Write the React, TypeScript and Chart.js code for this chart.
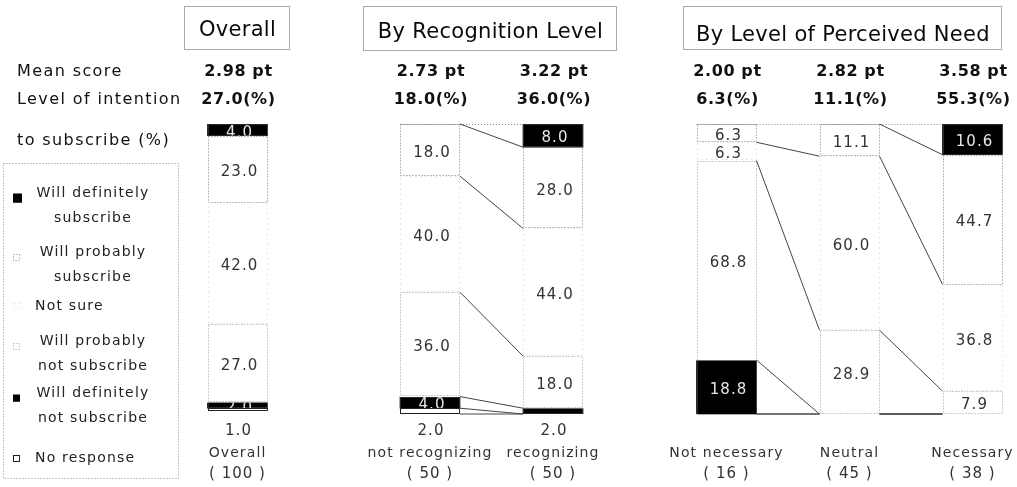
import React, { useEffect, useRef } from "react";
import { Chart, registerables } from "chart.js";

Chart.register(...registerables);

// ---- Data ----
const groupTitles = ["Overall", "By Recognition Level", "By Level of Perceived Need"];
const groupSizes = [1, 2, 3];
const categories = ["Overall", "not recognizing", "recognizing", "Not necessary", "Neutral", "Necessary"];
const sampleSizes = [100, 50, 50, 16, 45, 38];
const meanScores = [2.98, 2.73, 3.22, 2.0, 2.82, 3.58];
const intentionPct = [27.0, 18.0, 36.0, 6.3, 11.1, 55.3];

const definitelySubscribe = [4.0, 0, 8.0, 0, 0, 10.6];
const probablySubscribe = [23.0, 18.0, 28.0, 6.3, 11.1, 44.7];
const notSure = [42.0, 40.0, 44.0, 6.3, 60.0, 36.8];
const probablyNot = [27.0, 36.0, 18.0, 68.8, 28.9, 7.9];
const definitelyNot = [2.0, 4.0, 2.0, 18.8, 0, 0];
const noResponse = [1.0, 2.0, 0, 0, 0, 0];

const seriesNames = [
  "Will definitely subscribe",
  "Will probably subscribe",
  "Not sure",
  "Will probably not subscribe",
  "Will definitely not subscribe",
  "No response",
];
const seriesValues = [definitelySubscribe, probablySubscribe, notSure, probablyNot, definitelyNot, noResponse];

const legendLines: string[][] = [
  ["Will definitely", "subscribe"],
  ["Will probably", "subscribe"],
  ["Not sure"],
  ["Will probably", "not subscribe"],
  ["Will definitely", "not subscribe"],
  ["No response"],
];
const rowLabels = ["Mean score", "Level of intention", "to subscribe (%)"];

// ---- Layout ----
const W = 1017;
const H = 487;
const PLOT_TOP = 124;
const PLOT_BOTTOM = 414;
const GROUP_FIRST_X = [237.5, 430, 726.5];
const BAR_PITCH = 123;
const BAR_WIDTH = 60;
const TITLE_BOXES = [
  { x: 184, y: 6, w: 105, h: 43, base: 25 },
  { x: 363, y: 6, w: 253, h: 44, base: 26.5 },
  { x: 683, y: 6, w: 318, h: 43, base: 30 },
];
const ROW_Y = [72, 100, 141];
const BELOW_Y = [431, 453, 474];
const LEGEND_BOX = { x: 3, y: 163, w: 175, h: 315 };
const LEGEND_Y = [193, 252, 306, 341, 393, 458];
const FONT = '"DejaVu Sans", sans-serif';

const barX: number[] = [];
const barGroup: number[] = [];
groupSizes.forEach((n, g) => {
  for (let j = 0; j < n; j++) {
    barX.push(GROUP_FIRST_X[g] + j * BAR_PITCH);
    barGroup.push(g);
  }
});

const SEGMENT_STYLES = [
  { fill: "#000000", stroke: "#555555", dash: [1, 1], text: "#e6e6e6" },
  { fill: "#ffffff", stroke: "#7a7a7a", dash: [1, 2], text: "#333333" },
  { fill: "#ffffff", stroke: "#cfcfcf", dash: [1, 4], text: "#333333" },
  { fill: "#ffffff", stroke: "#9a9a9a", dash: [1, 2], text: "#333333" },
  { fill: "#000000", stroke: "#555555", dash: [1, 1], text: "#e6e6e6" },
  { fill: "#ffffff", stroke: "#222222", dash: [] as number[], text: "#333333" },
];

function drawText(
  ctx: CanvasRenderingContext2D,
  s: string,
  x: number,
  y: number,
  font: string,
  color: string,
  align: CanvasTextAlign = "center",
  spacing = "1px"
) {
  ctx.font = font;
  (ctx as any).letterSpacing = spacing;
  ctx.fillStyle = color;
  ctx.textAlign = align;
  ctx.textBaseline = "middle";
  ctx.fillText(s, x, y);
}

// the bottom segment of a bar gets its label under the bar when it is too thin
function bottomLabelSeries(i: number): number {
  for (let k = seriesValues.length - 1; k >= 0; k--) {
    const v = seriesValues[k][i];
    if (v > 0) return v < 3 ? k : -1;
  }
  return -1;
}

const decorations = {
  id: "decorations",
  afterDatasetsDraw(chart: any) {
    const ctx: CanvasRenderingContext2D = chart.ctx;
    const yScale = chart.scales.y;
    ctx.save();

    // segment outlines and value labels
    seriesValues.forEach((vals, k) => {
      const meta = chart.getDatasetMeta(k);
      const st = SEGMENT_STYLES[k];
      meta.data.forEach((el: any, i: number) => {
        const v = vals[i];
        if (!v) return;
        const p = el.getProps(["x", "y", "base", "width"], true);
        const l = p.x - p.width / 2;
        const r = p.x + p.width / 2;
        const top = Math.min(p.y, p.base);
        const bot = Math.max(p.y, p.base);
        ctx.save();
        ctx.strokeStyle = st.stroke;
        ctx.lineWidth = 1;
        ctx.setLineDash(st.dash);
        ctx.strokeRect(Math.round(l) + 0.5, Math.round(top) + 0.5, Math.round(r - l) - 1, Math.max(0, Math.round(bot - top) - 1));
        ctx.restore();

        if (bottomLabelSeries(i) === k) return;
        ctx.save();
        ctx.beginPath();
        ctx.rect(l, top, r - l, bot - top);
        ctx.clip();
        drawText(ctx, v.toFixed(1), p.x + 2, (top + bot) / 2 + 3, `15px ${FONT}`, st.text);
        ctx.restore();
      });
    });

    // connectors between neighbouring bars of the same group
    for (let i = 0; i < categories.length - 1; i++) {
      if (barGroup[i] !== barGroup[i + 1]) continue;
      const a = chart.getDatasetMeta(0).data[i].getProps(["x", "width"], true);
      const b = chart.getDatasetMeta(0).data[i + 1].getProps(["x", "width"], true);
      const xa = a.x + a.width / 2;
      const xb = b.x - b.width / 2;
      const y0 = Math.round(yScale.getPixelForValue(0)) + 0.5;
      ctx.save();
      ctx.strokeStyle = "#8a8a8a";
      ctx.setLineDash([1, 2]);
      ctx.beginPath();
      ctx.moveTo(xa, y0);
      ctx.lineTo(xb, y0);
      ctx.stroke();
      ctx.restore();
      let ca = 0;
      let cb = 0;
      for (let k = 0; k < seriesValues.length; k++) {
        ca += seriesValues[k][i];
        cb += seriesValues[k][i + 1];
        if (ca === 0 && cb === 0) continue;
        ctx.save();
        ctx.strokeStyle = "#444444";
        ctx.lineWidth = 1;
        ctx.beginPath();
        ctx.moveTo(xa, yScale.getPixelForValue(Math.min(ca, 100)));
        ctx.lineTo(xb, yScale.getPixelForValue(Math.min(cb, 100)));
        ctx.stroke();
        ctx.restore();
      }
    }

    // group titles
    TITLE_BOXES.forEach((b, g) => {
      ctx.save();
      ctx.strokeStyle = "#555555";
      ctx.setLineDash([1, 1]);
      ctx.strokeRect(b.x + 0.5, b.y + 0.5, b.w, b.h);
      ctx.restore();
      drawText(ctx, groupTitles[g], b.x + b.w / 2 + 1, b.y + b.base, `21px ${FONT}`, "#0a0a0a", "center", "0.3px");
    });

    // row headers
    rowLabels.forEach((s, r) => drawText(ctx, s, 17, ROW_Y[r], `16px ${FONT}`, "#111111", "left", "1.4px"));

    // per-bar figures above and labels below
    categories.forEach((c, i) => {
      const x = barX[i];
      drawText(ctx, `${meanScores[i].toFixed(2)} pt`, x + 1, ROW_Y[0], `bold 16px ${FONT}`, "#111111", "center", "0.6px");
      drawText(ctx, `${intentionPct[i].toFixed(1)}(%)`, x + 1, ROW_Y[1], `bold 16px ${FONT}`, "#111111", "center", "0.6px");
      const kb = bottomLabelSeries(i);
      if (kb >= 0) drawText(ctx, seriesValues[kb][i].toFixed(1), x + 1, BELOW_Y[0], `15px ${FONT}`, "#333333");
      drawText(ctx, c, x, BELOW_Y[1], `14px ${FONT}`, "#333333", "center", "1.1px");
      drawText(ctx, `( ${sampleSizes[i]} )`, x, BELOW_Y[2], `15px ${FONT}`, "#333333", "center", "1px");
    });

    // legend
    ctx.save();
    ctx.strokeStyle = "#8a8a8a";
    ctx.setLineDash([1, 2]);
    ctx.strokeRect(LEGEND_BOX.x + 0.5, LEGEND_BOX.y + 0.5, LEGEND_BOX.w, LEGEND_BOX.h);
    ctx.restore();
    legendLines.forEach((lines, k) => {
      const y0 = LEGEND_Y[k];
      const st = SEGMENT_STYLES[k];
      const iconCy = lines.length > 1 ? y0 + 5 : y0;
      const size = k === 0 ? 9 : 7;
      ctx.save();
      ctx.fillStyle = st.fill;
      ctx.fillRect(13, iconCy - size / 2, size, size);
      ctx.strokeStyle = k === 0 || k === 4 ? "#000000" : st.stroke;
      ctx.setLineDash(st.dash);
      ctx.strokeRect(13.5, Math.round(iconCy - size / 2) + 0.5, size - 1, size - 1);
      ctx.restore();
      if (lines.length === 1) {
        drawText(ctx, lines[0], 35, y0, `14px ${FONT}`, "#222222", "left", "1.2px");
      } else {
        lines.forEach((s, j) => drawText(ctx, s, 93, y0 + j * 25, `14px ${FONT}`, "#222222", "center", "1.2px"));
      }
    });

    ctx.restore();
  },
};

export default function App() {
  const canvasRef = useRef<HTMLCanvasElement | null>(null);

  useEffect(() => {
    const canvas = canvasRef.current;
    if (!canvas) return;
    const chart = new Chart(canvas, {
      type: "bar",
      data: {
        datasets: seriesValues.map((vals, k) => ({
          label: seriesNames[k],
          data: vals.map((v, i) => ({ x: barX[i], y: v })),
          backgroundColor: SEGMENT_STYLES[k].fill,
          borderWidth: 0,
          barThickness: BAR_WIDTH,
        })),
      },
      options: {
        responsive: false,
        devicePixelRatio: 1,
        animation: false,
        layout: { padding: { top: PLOT_TOP, bottom: H - PLOT_BOTTOM, left: 0, right: 0 } },
        plugins: { legend: { display: false }, tooltip: { enabled: false } },
        scales: {
          x: { type: "linear", min: 0, max: W, offset: false, display: false, stacked: true },
          y: { min: 0, max: 100, reverse: true, display: false, stacked: true },
        },
      },
      plugins: [decorations],
    } as any);
    return () => chart.destroy();
  }, []);

  return (
    <div style={{ position: "absolute", left: 0, top: 0, width: W, height: H, background: "#ffffff" }}>
      <canvas ref={canvasRef} width={W} height={H} style={{ display: "block" }} />
    </div>
  );
}
